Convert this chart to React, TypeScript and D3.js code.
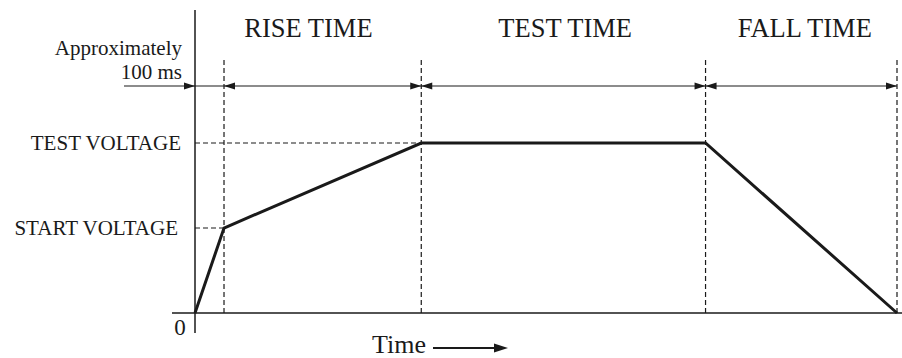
import React from "react";
import * as d3 from "d3";

// Time in units of ~100 ms; voltage in relative units
const phaseBoundaries = [0, 1, 7.8, 17.6, 24.2];
const phaseLabels = ["RISE TIME", "TEST TIME", "FALL TIME"];
const phaseLabelCenters = [3.91, 12.76, 21.02];
const waveTimes = [0, 1, 7.8, 17.6, 24.2];
const waveVolts = [0, 1, 2, 2, 0];
const voltageLevels = [1, 2];
const voltageLabels = ["START VOLTAGE", "TEST VOLTAGE"];
const voltageLevelEnds = [1, 7.8];

const W = 902;
const H = 358;

export default function App() {
  const x = d3.scaleLinear().domain([0, 24.2]).range([195, 897]);
  const y = d3.scaleLinear().domain([0, 2]).range([313, 143]);
  const line = d3
    .line<number>()
    .x((_, i) => x(waveTimes[i]))
    .y((d) => y(d));
  const arrowY = 86;
  const ink = "#1a1a1a";
  const font = "'Liberation Serif', 'Times New Roman', serif";

  const head = (tipX: number, tipY: number, dir: number, len = 11, hw = 3.6) =>
    `M${tipX},${tipY} L${tipX - dir * len},${tipY - hw} L${tipX - dir * len},${tipY + hw} Z`;

  const heads: { x: number; dir: number }[] = [];
  heads.push({ x: x(0), dir: 1 });
  heads.push({ x: x(phaseBoundaries[1]), dir: -1 });
  for (let i = 2; i < phaseBoundaries.length; i++) {
    heads.push({ x: x(phaseBoundaries[i]), dir: 1 });
    if (i < phaseBoundaries.length - 1) heads.push({ x: x(phaseBoundaries[i]), dir: -1 });
  }

  return (
    <svg
      width={W}
      height={H}
      style={{ position: "absolute", left: 0, top: 0, background: "#fff" }}
      fontFamily={font}
    >
      {/* dashed vertical phase boundaries */}
      {phaseBoundaries.slice(1).map((t, i) => (
        <line
          key={"v" + i}
          x1={x(t)}
          x2={x(t)}
          y1={60}
          y2={y(0)}
          stroke={ink}
          strokeWidth={1.2}
          strokeDasharray="5,3"
        />
      ))}
      {/* dashed horizontal voltage levels */}
      {voltageLevels.map((v, i) => (
        <line
          key={"h" + i}
          x1={x(0)}
          x2={x(voltageLevelEnds[i])}
          y1={y(v)}
          y2={y(v)}
          stroke={ink}
          strokeWidth={1.2}
          strokeDasharray="5,3"
        />
      ))}
      {/* axes */}
      <line x1={x(0)} x2={x(0)} y1={10} y2={333} stroke={ink} strokeWidth={1.5} />
      <line x1={172} x2={902} y1={y(0)} y2={y(0)} stroke={ink} strokeWidth={1.5} />
      {/* arrow row */}
      <line x1={124} x2={x(24.2)} y1={arrowY} y2={arrowY} stroke={ink} strokeWidth={1.2} />
      {heads.map((h, i) => (
        <path key={"a" + i} d={head(h.x, arrowY, h.dir)} fill={ink} />
      ))}
      {/* waveform */}
      <path d={line(waveVolts) || ""} fill="none" stroke={ink} strokeWidth={3} strokeLinejoin="miter" />
      {/* phase labels */}
      {phaseLabels.map((l, i) => (
        <text
          key={"p" + i}
          x={x(phaseLabelCenters[i])}
          y={37}
          textAnchor="middle"
          fontSize={26.5}
          fill={ink}
        >
          {l}
        </text>
      ))}
      {/* voltage labels */}
      {voltageLevels.map((v, i) => (
        <text
          key={"vl" + i}
          x={i === 0 ? 178 : 181}
          y={y(v) + 7}
          textAnchor="end"
          fontSize={21}
          fill={ink}
        >
          {voltageLabels[i]}
        </text>
      ))}
      <text x={182} y={55} textAnchor="end" fontSize={21} fill={ink}>
        Approximately
      </text>
      <text x={182} y={79} textAnchor="end" fontSize={21} fill={ink}>
        100 ms
      </text>
      <text x={180} y={335} textAnchor="middle" fontSize={23} fill={ink}>
        0
      </text>
      {/* Time label and arrow */}
      <text x={372} y={353} fontSize={26} fill={ink}>
        Time
      </text>
      <line x1={433} x2={498} y1={348} y2={348} stroke={ink} strokeWidth={2.2} />
      <path d={head(508, 348, 1, 14, 4.5)} fill={ink} />
    </svg>
  );
}
